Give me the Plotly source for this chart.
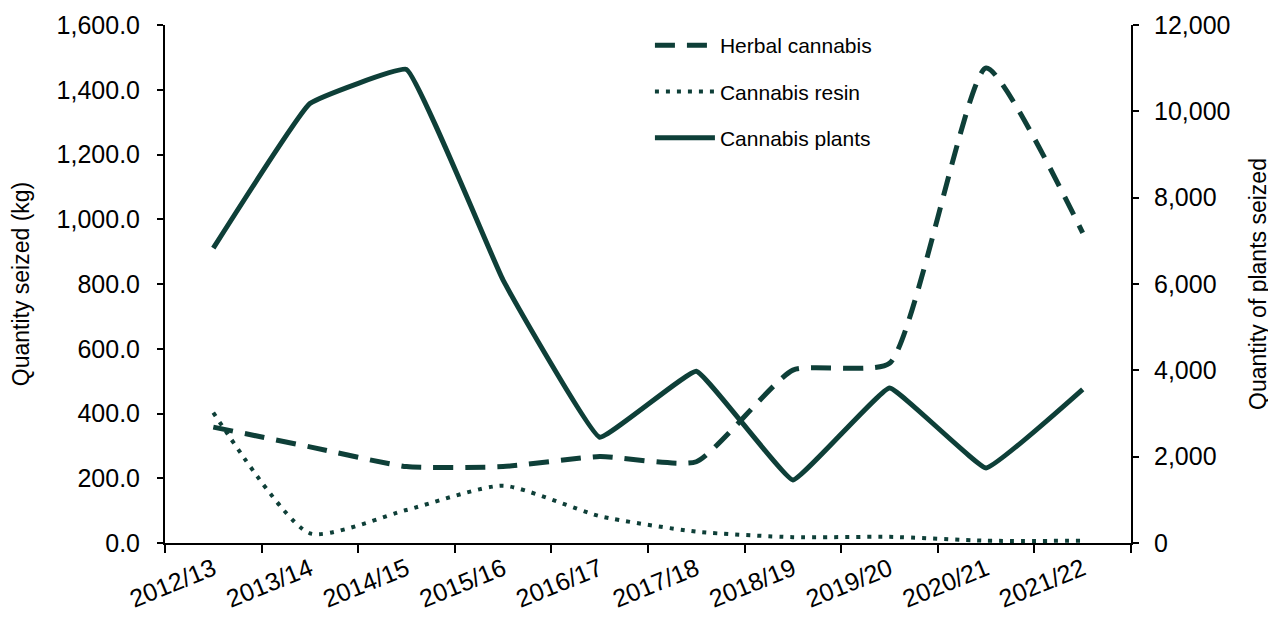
import plotly.graph_objects as go

years = ["2012/13", "2013/14", "2014/15", "2015/16", "2016/17",
         "2017/18", "2018/19", "2019/20", "2020/21", "2021/22"]
herbal_kg = [358, 297, 236, 236, 267, 251, 534, 555, 1467, 958]
resin_kg = [403, 30, 102, 177, 83, 35, 18, 19, 7, 7]
plants = [6830, 10180, 10970, 6090, 2450, 3980, 1460, 3590, 1740, 3560]

col = "#0e3f38"
font = "Liberation Sans, Arial, sans-serif"

fig = go.Figure()
fig.add_trace(go.Scatter(x=years, y=herbal_kg, name="Herbal cannabis", mode="lines", legendgroup="a",
                         line=dict(color=col, width=5, dash="20px,12px", shape="spline", smoothing=0.5)))
fig.add_trace(go.Scatter(x=years, y=resin_kg, name="Cannabis resin", mode="lines", legendgroup="b",
                         line=dict(color=col, width=4, dash="4px,7px", shape="spline", smoothing=0.6)))
fig.add_trace(go.Scatter(x=years, y=plants, name="Cannabis plants", mode="lines", yaxis="y2",
                         legendgroup="c",
                         line=dict(color=col, width=5, shape="spline", smoothing=0.25)))

fig.update_layout(
    width=1268, height=611,
    margin=dict(l=157, r=145, t=17, b=76),
    paper_bgcolor="white", plot_bgcolor="white",
    font=dict(family=font, size=24, color="black"),
    showlegend=True,
    legend=dict(x=0.502, y=1.0, xanchor="left", yanchor="top",
                font=dict(size=21, color="black"), itemwidth=60,
                traceorder="grouped", tracegroupgap=16,
                bgcolor="rgba(0,0,0,0)"),
    xaxis=dict(type="category", range=[-0.5, 9.5], showline=True, linecolor="black", linewidth=2,
               ticks="outside", tickson="boundaries", ticklen=8, tickwidth=2, tickcolor="black",
               tickangle=-22, showgrid=False, zeroline=False, automargin=False,
               tickfont=dict(size=25)),
    yaxis=dict(range=[0, 1600], dtick=200, tickformat=",.1f", showline=True, linecolor="black",
               linewidth=2, ticks="outside", ticklen=6, tickwidth=2, tickcolor="black",
               showgrid=False, zeroline=False, automargin=False, tickfont=dict(size=25),
               ticklabelstandoff=12,
               title=dict(text="Quantity seized (kg)", font=dict(size=23), standoff=25)),
    yaxis2=dict(range=[0, 12000], dtick=2000, tickformat=",.0f", overlaying="y", side="right",
                showline=True, linecolor="black", linewidth=2, ticks="outside", ticklen=6,
                tickwidth=2, tickcolor="black", showgrid=False, zeroline=False, automargin=False,
                tickfont=dict(size=25), ticklabelstandoff=10,
                title=dict(text="Quantity of plants seized", font=dict(size=23), standoff=20)),
)

fig.write_html("out.html")
